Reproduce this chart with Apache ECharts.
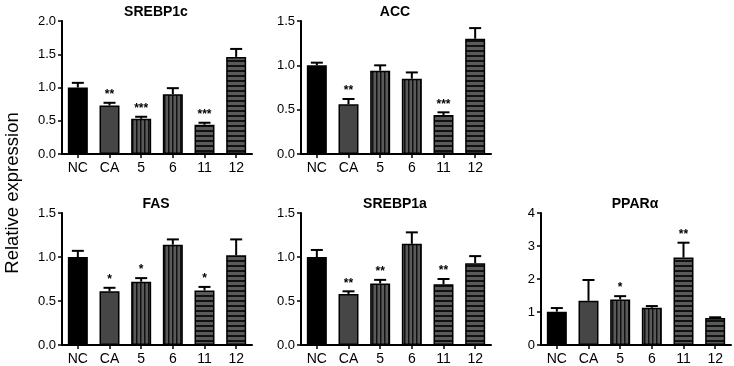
<!DOCTYPE html>
<html><head><meta charset="utf-8">
<script src="https://cdn.jsdelivr.net/npm/echarts@6/dist/echarts.min.js"></script>
<style>html,body{margin:0;padding:0;background:#fff}#c{width:734px;height:366px}</style>
</head><body><div id="c"></div>
<script>
const categories = ['NC', 'CA', '5', '6', '11', '12'];
const panelTitles = ['SREBP1c', 'ACC', 'FAS', 'SREBP1a', 'PPARα'];

const srebp1cMean = [1.00, 0.73, 0.53, 0.90, 0.44, 1.46];
const srebp1cErr  = [0.07, 0.04, 0.03, 0.09, 0.03, 0.12];
const srebp1cStars = ['', '**', '***', '', '***', ''];

const accMean = [1.00, 0.56, 0.94, 0.85, 0.44, 1.30];
const accErr  = [0.03, 0.06, 0.06, 0.07, 0.03, 0.12];
const accStars = ['', '**', '', '', '***', ''];

const fasMean = [1.00, 0.61, 0.72, 1.14, 0.62, 1.02];
const fasErr  = [0.07, 0.04, 0.04, 0.06, 0.04, 0.18];
const fasStars = ['', '*', '*', '', '*', ''];

const srebp1aMean = [1.00, 0.58, 0.70, 1.15, 0.69, 0.93];
const srebp1aErr  = [0.08, 0.03, 0.04, 0.13, 0.06, 0.08];
const srebp1aStars = ['', '**', '**', '', '**', ''];

const pparaMean = [1.01, 1.34, 1.38, 1.13, 2.65, 0.82];
const pparaErr  = [0.11, 0.63, 0.10, 0.05, 0.45, 0.02];
const pparaStars = ['', '', '*', '', '**', ''];

const yMax = [2.0, 1.5, 1.5, 1.5, 4];
const yInterval = [0.5, 0.5, 0.5, 0.5, 1];
const yDecimals = [1, 1, 1, 1, 0];

const means = [srebp1cMean, accMean, fasMean, srebp1aMean, pparaMean];
const errs = [srebp1cErr, accErr, fasErr, srebp1aErr, pparaErr];
const stars = [srebp1cStars, accStars, fasStars, srebp1aStars, pparaStars];

// layout
const gridPos = [
  {left: 62, top: 21, width: 190, height: 133},
  {left: 301, top: 21, width: 190, height: 133},
  {left: 62, top: 213, width: 190, height: 132},
  {left: 301, top: 213, width: 190, height: 132},
  {left: 541, top: 213, width: 190, height: 132}
];

function makePattern(kind) {
  const c = document.createElement('canvas');
  if (kind === 'v') {
    c.width = 4; c.height = 4;
    const g = c.getContext('2d');
    g.fillStyle = '#5a5a5a'; g.fillRect(0, 0, 4, 4);
    g.fillStyle = '#111'; g.fillRect(0, 0, 1.5, 4);
  } else {
    c.width = 4; c.height = 5;
    const g = c.getContext('2d');
    g.fillStyle = '#5a5a5a'; g.fillRect(0, 0, 4, 5);
    g.fillStyle = '#111'; g.fillRect(0, 0, 4, 2);
  }
  return c;
}
const vPat = {image: makePattern('v'), repeat: 'repeat'};
const hPat = {image: makePattern('h'), repeat: 'repeat'};
const barFills = ['#000', '#464646', vPat, vPat, hPat, hPat];

const grid = [], xAxis = [], yAxis = [], series = [], title = [];
for (let i = 0; i < 5; i++) {
  grid.push(Object.assign({containLabel: false}, gridPos[i]));
  title.push({
    text: panelTitles[i],
    left: gridPos[i].left + gridPos[i].width / 2 - 6,
    top: gridPos[i].top - 21,
    textAlign: 'center',
    textStyle: {fontFamily: 'Liberation Sans, Arial', fontWeight: 'bold', fontSize: 14, color: '#000'}
  });
  xAxis.push({
    type: 'category', gridIndex: i, data: categories,
    axisLine: {lineStyle: {color: '#000', width: 2}},
    axisTick: {show: true, alignWithLabel: true, length: 4, lineStyle: {color: '#000', width: 1.5}},
    axisLabel: {color: '#000', fontFamily: 'Liberation Sans, Arial', fontSize: 14, margin: 7, interval: 0},
    splitLine: {show: false}
  });
  const dec = yDecimals[i];
  yAxis.push({
    type: 'value', gridIndex: i, min: 0, max: yMax[i], interval: yInterval[i],
    axisLine: {show: true, lineStyle: {color: '#000', width: 2}},
    axisTick: {show: true, length: 4, lineStyle: {color: '#000', width: 1.5}},
    axisLabel: {color: '#000', fontFamily: 'Liberation Sans, Arial', fontSize: 13, margin: 6,
      formatter: v => v.toFixed(dec)},
    splitLine: {show: false}
  });
  series.push({
    type: 'bar', xAxisIndex: i, yAxisIndex: i, barWidth: 20,
    data: means[i].map((v, k) => ({value: v, itemStyle: {color: barFills[k]}})),
    itemStyle: {borderColor: '#000', borderWidth: 1.5},
    silent: true, animation: false
  });
  const m = means[i], e = errs[i], s = stars[i];
  series.push({
    type: 'custom', xAxisIndex: i, yAxisIndex: i, silent: true, animation: false,
    data: m.map((v, k) => [k, v, v + e[k], s[k]]),
    renderItem: function (params, api) {
      const x = api.value(0);
      const top = api.coord([x, api.value(1)]);
      const hi = api.coord([x, api.value(2)]);
      const st = s[params.dataIndex];
      const children = [
        {type: 'line', shape: {x1: top[0], y1: top[1], x2: hi[0], y2: hi[1]}, style: {stroke: '#000', lineWidth: 2}},
        {type: 'line', shape: {x1: hi[0] - 6, y1: hi[1], x2: hi[0] + 6, y2: hi[1]}, style: {stroke: '#000', lineWidth: 2}}
      ];
      if (st) {
        children.push({type: 'text', style: {text: st, x: hi[0], y: hi[1] - 2, textAlign: 'center', textVerticalAlign: 'bottom',
          fill: '#000', font: 'bold 12px "Liberation Sans", Arial'}});
      }
      return {type: 'group', children: children};
    }
  });
}

const chart = echarts.init(document.getElementById('c'), null, {renderer: 'canvas'});
chart.setOption({
  animation: false,
  backgroundColor: '#fff',
  title: title,
  grid: grid, xAxis: xAxis, yAxis: yAxis, series: series,
  graphic: [{
    type: 'text', x: 13, y: 193, rotation: Math.PI / 2,
    style: {text: 'Relative expression', textAlign: 'center', textVerticalAlign: 'middle',
      fill: '#000', font: '18.5px "Liberation Sans", Arial'}
  }]
});
</script>
</body></html>
